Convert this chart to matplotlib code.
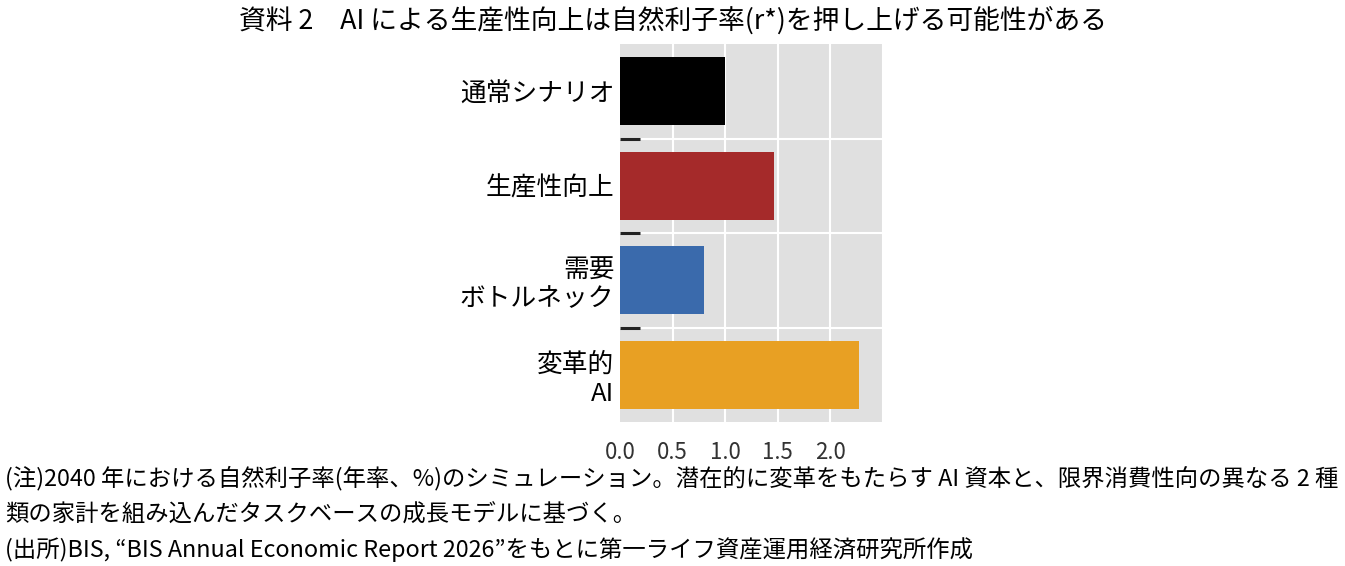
import matplotlib
matplotlib.use("Agg")
import matplotlib.pyplot as plt
import numpy as np

plt.rcParams['font.family'] = ['Noto Sans CJK JP', 'DejaVu Sans']

# data
categories = ['通常シナリオ', '生産性向上', '需要\nボトルネック', '変革的\nAI']
values = [1.00, 1.46, 0.80, 2.27]
colors = ['#000000', '#a52a2a', '#3a6aac', '#e8a023']
xticks = [0.0, 0.5, 1.0, 1.5, 2.0]

title = '資料 2　AI による生産性向上は自然利子率(r*)を押し上げる可能性がある'
note1 = '(注)2040 年における自然利子率(年率、%)のシミュレーション。潜在的に変革をもたらす AI 資本と、限界消費性向の異なる 2 種'
note2 = '類の家計を組み込んだタスクベースの成長モデルに基づく。'
source = '(出所)BIS, “BIS Annual Economic Report 2026”をもとに第一ライフ資産運用経済研究所作成'

fig = plt.figure(figsize=(13.45, 5.66), dpi=100)
ax = fig.add_axes([620 / 1345, 144 / 566, 263 / 1345, 378 / 566])

y = np.arange(len(categories))
ax.barh(y, values, height=0.72, color=colors, zorder=3)

ax.set_facecolor('#e0e0e0')
ax.set_xlim(0, 2.5)
ax.set_ylim(len(categories) - 0.5, -0.5)
ax.set_xticks(xticks)
ax.set_xticklabels([f'{t:.1f}' for t in xticks], fontsize=16, color='#333333')
ax.set_yticks(y)
ax.set_yticklabels(categories, fontsize=18.5, linespacing=1.15)
ax.tick_params(axis='y', length=0, pad=4)
ax.tick_params(axis='x', length=0, pad=14)

# white grid: vertical at x ticks, horizontal at category boundaries
for xv in [0.5, 1.0, 1.5, 2.0, 2.5]:
    ax.axvline(xv, color='white', lw=1.5, zorder=1)
for b in np.arange(0.5, len(categories) - 0.5, 1.0):
    ax.axhline(b, color='white', lw=1.5, zorder=1)
ax.set_yticks(np.arange(0.5, len(categories) - 0.5, 1.0), minor=True)
ax.tick_params(axis='y', which='minor', direction='in', length=14.5, width=2.2,
               color='#222222')

for s in ax.spines.values():
    s.set_visible(False)

fig.text(0.5, 1 - 22 / 566, title, ha='center', va='center', fontsize=19.3)
fig.text(5 / 1345, 1 - 478 / 566, note1, ha='left', va='center', fontsize=16.8)
fig.text(5 / 1345, 1 - 515 / 566, note2, ha='left', va='center', fontsize=16.8)
fig.text(5 / 1345, 1 - 550 / 566, source, ha='left', va='center', fontsize=16.8)

fig.savefig('out.png', dpi=100)
